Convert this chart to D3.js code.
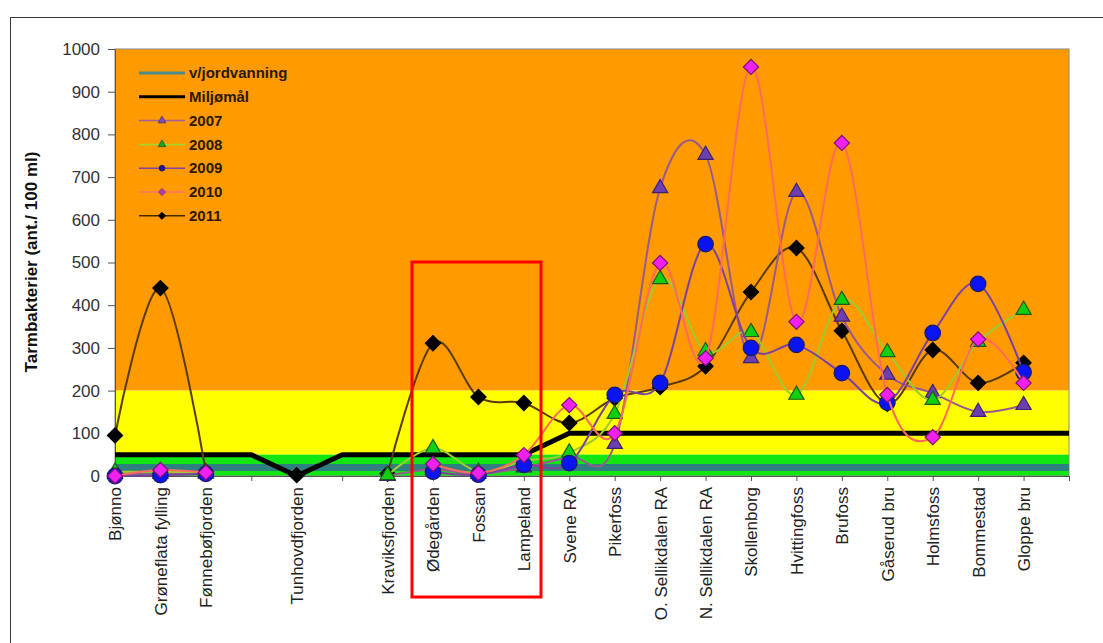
<!DOCTYPE html>
<html>
<head>
<meta charset="utf-8">
<script src="https://cdn.jsdelivr.net/npm/d3@7"></script>
<style>
  html, body { margin: 0; padding: 0; background: #fff; }
  svg { display: block; font-family: "Liberation Sans", Arial, sans-serif; }
</style>
</head>
<body>
<svg id="chart" width="1103" height="643"></svg>
<script>
// Sampling stations along the river (empty slots keep spacing on the axis)
const categories = ["Bjønno", "Grøneflata fylling", "Fønnebøfjorden", "", "Tunhovdfjorden", "",
  "Kraviksfjorden", "Ødegården", "Fossan", "Lampeland", "Svene RA", "Pikerfoss",
  "O. Sellikdalen RA", "N. Sellikdalen RA", "Skollenborg", "Hvittingfoss", "Brufoss",
  "Gåserud bru", "Holmsfoss", "Bommestad", "Gloppe bru", ""];

// Reference levels
const jordvanning = [20, 20, 20, 20, 20, 20, 20, 20, 20, 20, 20, 20, 20, 20, 20, 20, 20, 20, 20, 20, 20, 20];
const miljomaal   = [50, 50, 50, 50, 0, 50, 50, 50, 50, 50, 100, 100, 100, 100, 100, 100, 100, 100, 100, 100, 100, 100];

// Tarmbakterier per year (ant./100 ml)
const v2007 = [5, 5, 5, null, null, null, 0, 15, 5, 20, 45, 75, 674, 752, 276, 665, 373, 237, 194, 150, 166, null];
const v2008 = [10, 10, 8, null, null, null, 2, 65, 10, 35, 55, 145, 461, 292, 337, 190, 412, 290, 178, 314, 389, null];
const v2009 = [0, 2, 5, null, null, null, null, 10, 3, 26, 30, 190, 218, 543, 300, 307, 241, 172, 335, 450, 243, null];
const v2010 = [0, 14, 8, null, null, null, null, 28, 7, 49, 166, 100, 499, 276, 958, 361, 780, 190, 91, 320, 218, null];
const v2011 = [95, 440, 10, null, 2, null, 5, 311, 185, 171, 124, 182, 208, 257, 431, 534, 340, 169, 295, 218, 265, null];

// Background quality classes (lower, upper)
const bandLimits = [[200, 1000], [50, 200], [0, 50]];
const bandColors = ["#ff9a00", "#ffff00", "#12e612"];

const yTicks = [0, 100, 200, 300, 400, 500, 600, 700, 800, 900, 1000];

const svg = d3.select("#chart");
const plotLeft = 115, plotRight = 1069, plotTop = 49, plotBottom = 476;

const x = d3.scalePoint().domain(d3.range(categories.length)).range([plotLeft, plotRight]);
const y = d3.scaleLinear().domain([0, 1000]).range([plotBottom, plotTop]);

// outer frame
svg.append("rect").attr("x", 10.5).attr("y", 17.5).attr("width", 1120).attr("height", 700)
  .attr("fill", "none").attr("stroke", "#3a3a3a").attr("stroke-width", 1);

// background bands
svg.append("g").selectAll("rect").data(bandLimits).join("rect")
  .attr("x", plotLeft).attr("width", plotRight - plotLeft)
  .attr("y", d => y(d[1])).attr("height", d => y(d[0]) - y(d[1]))
  .attr("fill", (d, i) => bandColors[i]);

svg.append("rect").attr("x", plotLeft).attr("y", plotTop).attr("width", plotRight - plotLeft).attr("height", plotBottom - plotTop)
  .attr("fill", "none").attr("stroke", "#8a8a8a").attr("stroke-width", 1);

// axes
const yAxis = svg.append("g").attr("transform", `translate(${plotLeft},0)`)
  .call(d3.axisLeft(y).tickValues(yTicks).tickFormat(d3.format("d")).tickSize(7).tickPadding(8));
yAxis.select(".domain").attr("stroke", "#555");
yAxis.selectAll(".tick line").attr("stroke", "#555");
yAxis.selectAll("text").attr("font-size", 17).attr("fill", "#333")
  .attr("font-family", "'Liberation Sans', Arial, sans-serif");

const xAxis = svg.append("g").attr("transform", `translate(0,${plotBottom})`)
  .call(d3.axisBottom(x).tickFormat(i => categories[i]).tickSize(5));
xAxis.select(".domain").attr("stroke", "#555");
xAxis.selectAll(".tick line").attr("stroke", "#555");
xAxis.selectAll("text")
  .attr("transform", "rotate(-90)")
  .attr("x", -11).attr("y", 0).attr("dy", "0.35em")
  .attr("text-anchor", "end")
  .attr("font-size", 17).attr("fill", "#222")
  .attr("font-family", "'Liberation Sans', Arial, sans-serif");

svg.append("text")
  .attr("transform", `translate(37,262) rotate(-90)`)
  .attr("text-anchor", "middle")
  .attr("font-size", 17).attr("font-weight", "bold").attr("fill", "#111")
  .text("Tarmbakterier (ant./ 100 ml)");

// reference lines
const straight = d3.line().x((d, i) => x(i)).y(d => y(d));
svg.append("path").attr("d", straight(jordvanning))
  .attr("fill", "none").attr("stroke", "#2f7f80").attr("stroke-width", 7);
svg.append("path").attr("d", straight(miljomaal))
  .attr("fill", "none").attr("stroke", "#000").attr("stroke-width", 5).attr("stroke-linejoin", "round");

// marker shapes: diamonds are squares turned 45 degrees
const markerPath = (type, size) => {
  if (type === "diamond") return d3.symbol().type(d3.symbolSquare).size(size)();
  return d3.symbol().type(type === "triangle" ? d3.symbolTriangle : d3.symbolCircle).size(size)();
};
const markerRotation = type => (type === "diamond" ? " rotate(45)" : "");

// yearly series
const series = [
  { name: "2011", values: v2011, line: "#5a3a12", fill: "#000000", stroke: "#000000", symbol: "diamond", size: 115 },
  { name: "2007", values: v2007, line: "#9a5a8e", fill: "#6c3fae", stroke: "#3e2270", symbol: "triangle", size: 100 },
  { name: "2008", values: v2008, line: "#9ccc30", fill: "#10d010", stroke: "#1d5a1d", symbol: "triangle", size: 100 },
  { name: "2009", values: v2009, line: "#7b42a2", fill: "#0a14f0", stroke: "#1c1c60", symbol: "circle", size: 190 },
  { name: "2010", values: v2010, line: "#ff6a5c", fill: "#f020f0", stroke: "#7a107a", symbol: "diamond", size: 115 }
];

const smooth = d3.line()
  .defined(d => d != null)
  .x((d, i) => x(i)).y(d => y(d))
  .curve(d3.curveCardinal.tension(0));

series.forEach(s => {
  const g = svg.append("g");
  g.append("path").attr("d", smooth(s.values))
    .attr("fill", "none").attr("stroke", s.line).attr("stroke-width", 2);
  g.selectAll("path.m").data(s.values.map((v, i) => ({ v, i })).filter(d => d.v != null)).join("path")
    .attr("class", "m")
    .attr("transform", d => `translate(${x(d.i)},${y(d.v)})${markerRotation(s.symbol)}`)
    .attr("d", markerPath(s.symbol, s.size))
    .attr("fill", s.fill).attr("stroke", s.stroke).attr("stroke-width", 1.2);
});

// legend
const legendItems = [
  { name: "v/jordvanning", line: "#4a8a8a", width: 3 },
  { name: "Miljømål", line: "#000", width: 3 },
  { name: "2007", line: "#a0609a", width: 1.5, fill: "#7a50b0", stroke: "#4a2a80", symbol: "triangle" },
  { name: "2008", line: "#99dd33", width: 1.5, fill: "#20a020", stroke: "#1d5a1d", symbol: "triangle" },
  { name: "2009", line: "#8040a0", width: 1.5, fill: "#1a1a90", stroke: "#1c1c60", symbol: "circle" },
  { name: "2010", line: "#ff7070", width: 1.5, fill: "#b040a0", stroke: "#803080", symbol: "diamond" },
  { name: "2011", line: "#4a2a00", width: 1.5, fill: "#000", stroke: "#000", symbol: "diamond" }
];
const legend = svg.append("g");
legendItems.forEach((d, i) => {
  const yy = 73 + i * 23.8;
  legend.append("line").attr("x1", 139).attr("x2", 185).attr("y1", yy).attr("y2", yy)
    .attr("stroke", d.line).attr("stroke-width", d.width);
  if (d.symbol) {
    legend.append("path").attr("transform", `translate(162,${yy})${markerRotation(d.symbol)}`)
      .attr("d", markerPath(d.symbol, 26))
      .attr("fill", d.fill).attr("stroke", d.stroke).attr("stroke-width", 0.8);
  }
  legend.append("text").attr("x", 189).attr("y", yy).attr("dy", "0.35em")
    .attr("font-size", 15).attr("font-weight", "bold").attr("fill", "#2a1800")
    .text(d.name);
});

// highlighted stations
svg.append("rect").attr("x", 412).attr("y", 262).attr("width", 129).attr("height", 335)
  .attr("fill", "none").attr("stroke", "#ff0000").attr("stroke-width", 3);
</script>
</body>
</html>
